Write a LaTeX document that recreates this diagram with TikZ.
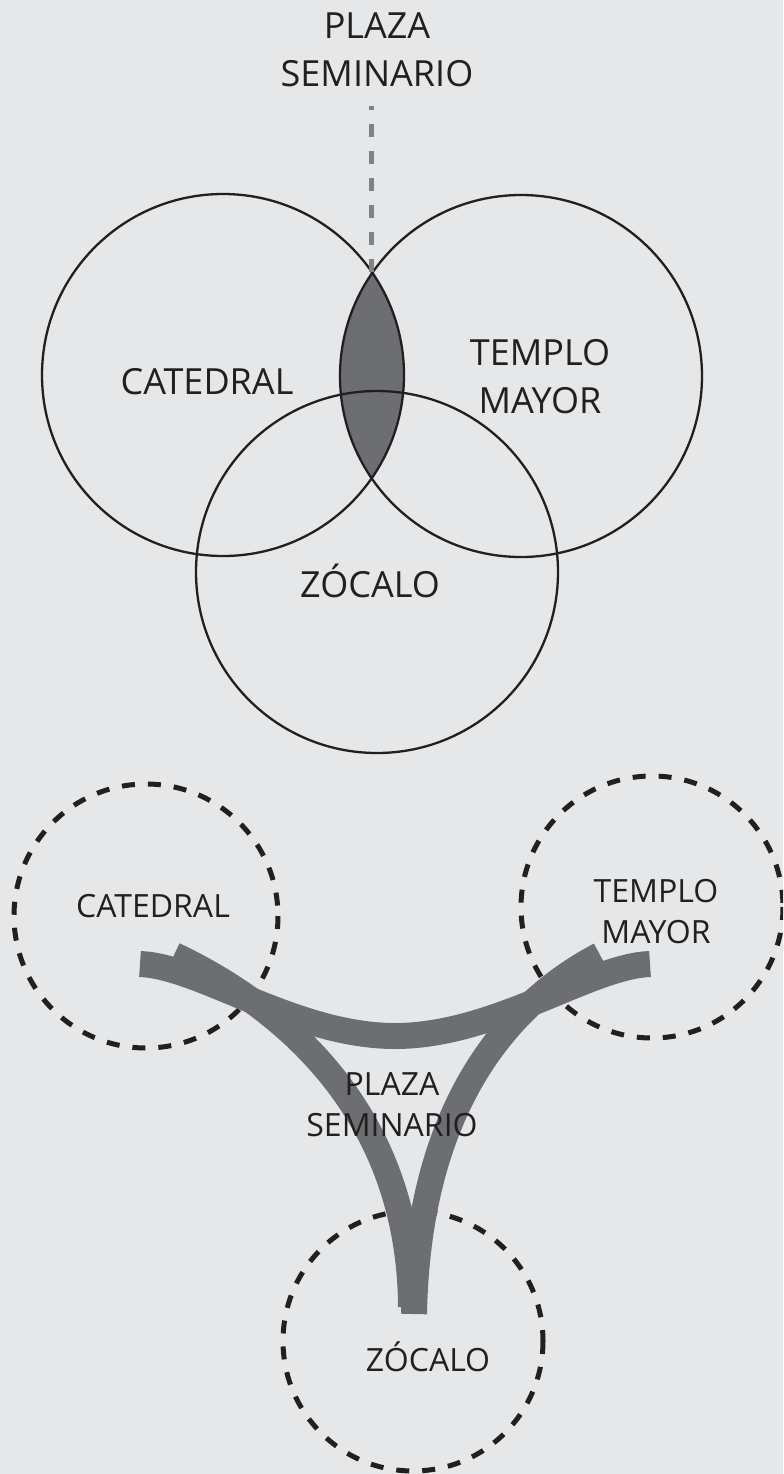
\documentclass[tikz,border=0pt]{standalone}
\usepackage{fontspec}
\setmainfont{Open Sans}
\definecolor{paper}{HTML}{E6E7E8}
\definecolor{ink}{HTML}{231F20}
\definecolor{road}{HTML}{6D6E71}
\definecolor{lead}{HTML}{808285}

\begin{document}
\begin{tikzpicture}[
    x=0.5pt, y=-0.5pt,
    venn/.style={draw=ink, line width=1.15pt},
    zone/.style={draw=ink, line width=2.5pt, dash pattern=on 6.5pt off 6.5pt},
    street/.style={draw=road, line width=13pt, line cap=butt},
    leader/.style={draw=lead, line width=2.5pt, dash pattern=on 6.75pt off 6.75pt},
    bigname/.style={font=\fontsize{18}{24}\selectfont, text=ink, align=center, inner sep=0pt},
    smallname/.style={font=\fontsize{16}{20.5}\selectfont, text=ink, align=center, inner sep=0pt},
]

% ════════════════════════════════════════
% Page
% ════════════════════════════════════════
\fill[paper] (0,0) rectangle (783,1474);
\useasboundingbox (0,0) rectangle (783,1474);
\clip (0,0) rectangle (783,1474);

% ════════════════════════════════════════
% Upper diagram: three overlapping circles
% ════════════════════════════════════════
\coordinate (catc) at (223,375);
\coordinate (templc) at (521,376);
\coordinate (zocc) at (377,572);

% Shared lens of Catedral and Templo Mayor
\begin{scope}
    \clip (catc) circle (181);
    \fill[road] (templc) circle (181);
\end{scope}

\draw[venn] (catc) circle (181);
\draw[venn] (templc) circle (181);
\draw[venn] (zocc) circle (181);

% Leader from the lens up to its label
\coordinate (lenstop) at (371,272);
\coordinate (leadend) at (371,106);
\draw[leader] (lenstop) -- (leadend);

% (base = baseline of the last line)
\node[bigname, anchor=base] (plazatop) at (377,86) {PLAZA\\SEMINARIO};
\node[bigname, anchor=base] (cattop) at (207,394) {CATEDRAL};
\node[bigname, anchor=base] (templtop) at (540,413) {TEMPLO\\MAYOR};
\node[bigname, anchor=base] (zoctop) at (370,597) {ZÓCALO};

% ════════════════════════════════════════
% Lower diagram: dashed zones and streets
% ════════════════════════════════════════
\coordinate (catz) at (146,916);
\coordinate (templz) at (652,907);
\coordinate (zocz) at (413,1341);

\draw[zone] (catz) circle (132);
\draw[zone] (templz) circle (131);
\draw[zone] (zocz) circle (130);

% Street ends
\coordinate (catend) at (140,964);
\coordinate (templend) at (650,964);
\coordinate (catfork) at (174,955);
\coordinate (templfork) at (600,955);
\coordinate (zocendl) at (411,1307);
\coordinate (zocendr) at (414,1314);

\draw[street] (catend) .. controls (200,966) and (295,1036) .. (395,1036)
    .. controls (495,1036) and (590,966) .. (templend);
\draw[street] (catfork) .. controls (280,1005) and (410,1110) .. (zocendl);
\draw[street] (templfork) .. controls (505,1005) and (418,1110) .. (zocendr);

\node[smallname, anchor=base] (catbot) at (153,917) {CATEDRAL};
\node[smallname, anchor=base] (templbot) at (656,943) {TEMPLO\\MAYOR};
\node[smallname, anchor=base] (zocbot) at (428,1371) {ZÓCALO};
\node[smallname, anchor=base] (plazabot) at (392,1136) {PLAZA\\SEMINARIO};

\end{tikzpicture}
\end{document}
